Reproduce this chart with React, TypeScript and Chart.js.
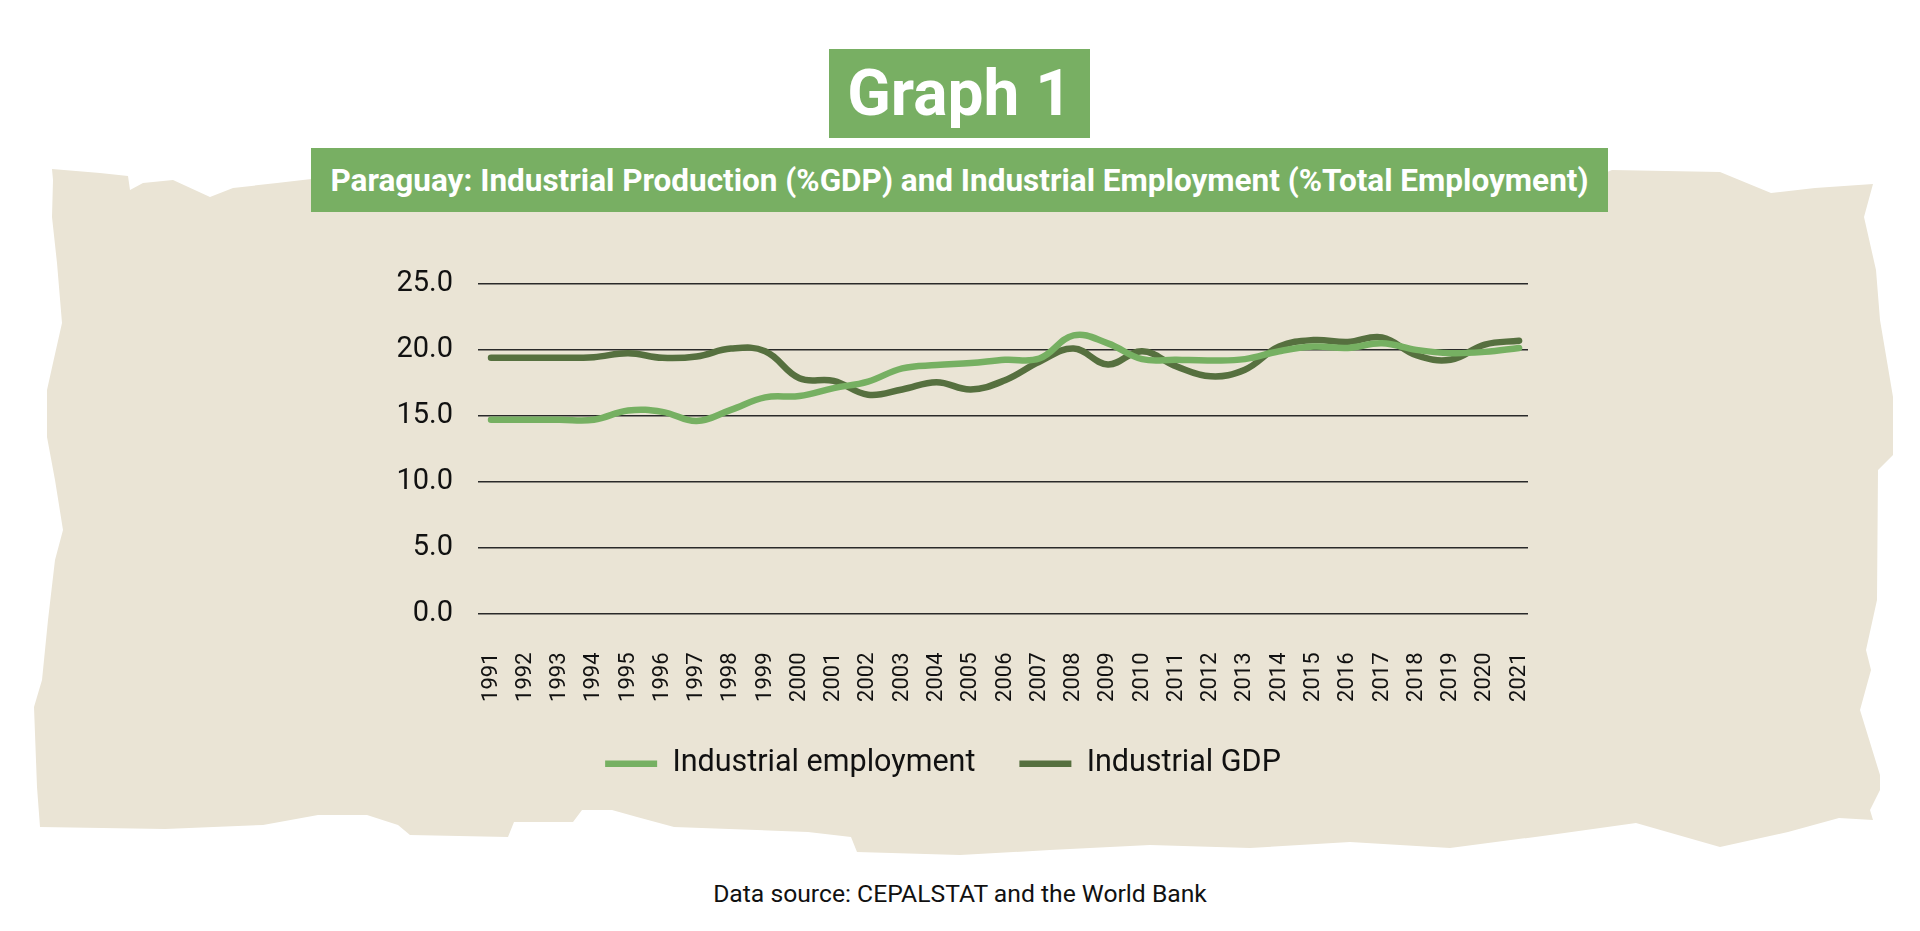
import { Chart, registerables, type ChartConfiguration } from "chart.js";
import { useEffect, useRef } from "react";

Chart.register(...registerables);

const years = [
  1991, 1992, 1993, 1994, 1995, 1996, 1997, 1998, 1999, 2000, 2001, 2002, 2003, 2004, 2005, 2006,
  2007, 2008, 2009, 2010, 2011, 2012, 2013, 2014, 2015, 2016, 2017, 2018, 2019, 2020, 2021,
];

// % of total employment
const employment = [
  14.7, 14.7, 14.7, 14.7, 15.4, 15.3, 14.6, 15.45, 16.4, 16.5, 17.1, 17.6, 18.6, 18.85, 19.0, 19.25,
  19.35, 21.1, 20.5, 19.3, 19.25, 19.2, 19.3, 19.9, 20.25, 20.15, 20.5, 20.0, 19.75, 19.85, 20.15,
];

// % of GDP
const gdp = [
  19.4, 19.4, 19.4, 19.45, 19.75, 19.4, 19.5, 20.1, 19.9, 17.85, 17.65, 16.6, 17.0, 17.55, 17.0, 17.7,
  19.1, 20.1, 18.9, 19.9, 18.75, 18.0, 18.5, 20.25, 20.75, 20.6, 20.95, 19.6, 19.25, 20.4, 20.7,
];

const yTicks = [0, 5, 10, 15, 20, 25];

const LIGHT = "#76b062";
const DARK = "#56703f";
const BOX = "#78af63";
const PAPER = "#eae4d5";

const paperOutline = [
  [52, 169], [100, 173], [128, 176], [130, 190], [143, 183], [173, 180], [210, 197], [233, 188],
  [277, 183], [320, 178], [1600, 175], [1612, 170], [1720, 172], [1771, 193], [1815, 188], [1873, 184],
  [1864, 217], [1876, 270], [1880, 320], [1893, 397], [1893, 455], [1878, 470], [1877, 600],
  [1866, 650], [1871, 670], [1860, 710], [1880, 775], [1880, 790], [1870, 810], [1873, 820],
  [1839, 818], [1788, 832], [1720, 847], [1636, 823], [1550, 835], [1450, 848], [1350, 842],
  [1250, 848], [1150, 845], [1050, 850], [960, 855], [857, 852], [851, 837], [808, 832], [674, 827],
  [637, 817], [612, 810], [582, 810], [573, 822], [514, 822], [508, 837], [410, 835], [398, 825],
  [367, 815], [318, 815], [263, 825], [165, 829], [40, 827], [37, 787], [34, 707], [42, 680],
  [48, 620], [55, 560], [63, 530], [55, 480], [47, 437], [47, 390], [53, 363], [62, 323], [57, 263],
  [52, 217], [53, 180],
];

function IndustryChart() {
  const canvasRef = useRef<HTMLCanvasElement>(null);

  useEffect(() => {
    if (!canvasRef.current) {
      return;
    }

    const config: ChartConfiguration<"line"> = {
      type: "line",
      data: {
        datasets: [
          {
            label: "Industrial employment",
            data: years.map((year, i) => ({ x: year, y: employment[i] })),
            borderColor: LIGHT,
            backgroundColor: LIGHT,
            borderWidth: 6.5,
            borderCapStyle: "round",
            borderJoinStyle: "round",
            pointRadius: 0,
            tension: 0.4,
          },
          {
            label: "Industrial GDP",
            data: years.map((year, i) => ({ x: year, y: gdp[i] })),
            borderColor: DARK,
            backgroundColor: DARK,
            borderWidth: 6.5,
            borderCapStyle: "round",
            borderJoinStyle: "round",
            pointRadius: 0,
            tension: 0.4,
          },
        ],
      },
      options: {
        animation: false,
        responsive: true,
        maintainAspectRatio: false,
        layout: {
          padding: { left: 18, right: 20, top: 34, bottom: 0 },
        },
        plugins: {
          legend: {
            position: "bottom",
            labels: {
              usePointStyle: true,
              pointStyle: "line",
              pointStyleWidth: 52,
              padding: 44,
              color: "#111",
              font: { family: "Roboto", size: 30.5 },
            },
          },
          tooltip: { enabled: false },
        },
        scales: {
          x: {
            type: "linear",
            min: years[0] - 0.38,
            max: years[years.length - 1] + 0.26,
            border: { display: false },
            grid: { display: false, drawTicks: false },
            ticks: {
              stepSize: 1,
              includeBounds: false,
              autoSkip: false,
              maxRotation: 90,
              minRotation: 90,
              padding: 39,
              color: "#111",
              font: { family: "Roboto", size: 22 },
              callback(value) {
                return String(value);
              },
            },
            afterFit(scale) {
              scale.height = 91;
              scale.paddingLeft = 0;
              scale.paddingRight = 0;
            },
          },
          y: {
            min: yTicks[0],
            max: yTicks[yTicks.length - 1],
            border: { display: false },
            grid: { color: "#2a2a2a", lineWidth: 1.6, drawTicks: false },
            afterBuildTicks(scale) {
              scale.ticks = yTicks.map((value) => ({ value }));
            },
            ticks: {
              padding: 25,
              color: "#111",
              font: { family: "Roboto", size: 29 },
              callback(value) {
                return Number(value).toFixed(1);
              },
            },
            afterFit(scale) {
              scale.width = 120;
              scale.paddingTop = 0;
              scale.paddingBottom = 0;
            },
          },
        },
      },
    };

    const chart = new Chart(canvasRef.current, config);

    return () => {
      chart.destroy();
    };
  }, []);

  return <canvas ref={canvasRef} />;
}

export default function App() {
  return (
    <div
      style={{
        position: "fixed",
        left: 0,
        top: 0,
        width: 1920,
        height: 931,
        background: "#ffffff",
        overflow: "hidden",
        fontFamily: "Roboto, sans-serif",
      }}
    >
      <svg width={1920} height={931} style={{ position: "absolute", left: 0, top: 0 }}>
        <polygon points={paperOutline.map((p) => p.join(",")).join(" ")} fill={PAPER} />
      </svg>

      <div
        style={{
          position: "absolute",
          left: 829,
          top: 49,
          width: 261,
          height: 89,
          background: BOX,
          color: "#fff",
          fontWeight: 700,
          fontSize: 64,
          display: "flex",
          alignItems: "center",
          justifyContent: "center",
        }}
      >
        Graph 1
      </div>

      <div
        style={{
          position: "absolute",
          left: 311,
          top: 148,
          width: 1297,
          height: 64,
          background: BOX,
          color: "#fff",
          fontWeight: 700,
          fontSize: 31.5,
          display: "flex",
          alignItems: "center",
          justifyContent: "center",
          whiteSpace: "nowrap",
        }}
      >
        Paraguay: Industrial Production (%GDP) and Industrial Employment (%Total Employment)
      </div>

      <div style={{ position: "absolute", left: 340, top: 250, width: 1208, height: 539 }}>
        <IndustryChart />
      </div>

      <div
        style={{
          position: "absolute",
          left: 0,
          width: 1920,
          top: 879,
          textAlign: "center",
          fontSize: 24.7,
          color: "#111",
        }}
      >
        Data source: CEPALSTAT and the World Bank
      </div>
    </div>
  );
}
